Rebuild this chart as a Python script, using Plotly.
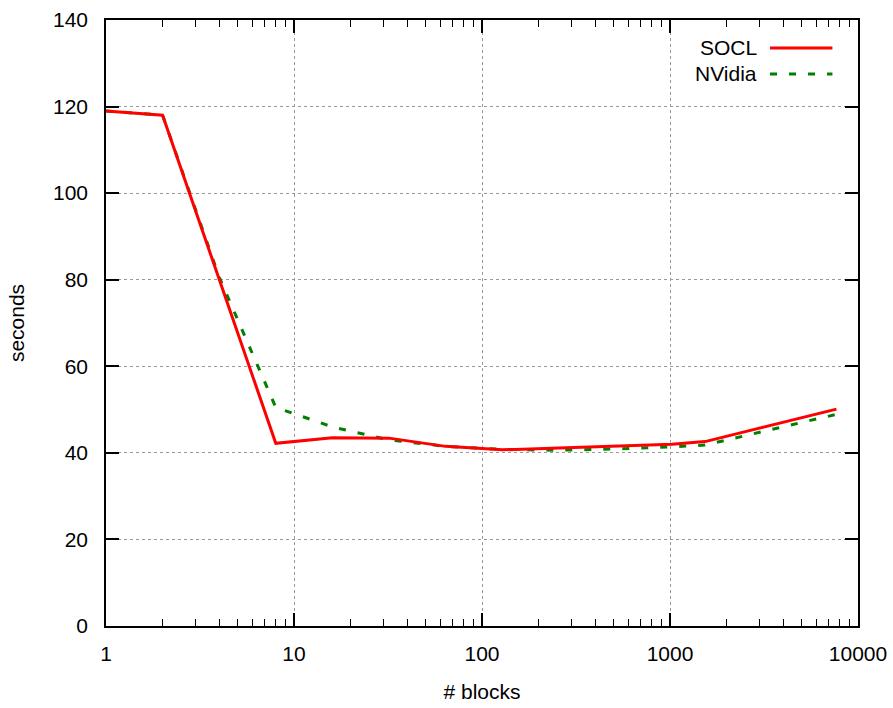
import plotly.graph_objects as go

# number of blocks (x) and run time in seconds (y)
blocks = [1, 2, 4, 8, 16, 32, 64, 128, 256, 512, 1024, 1536, 7680]
socl = [119.0, 118.0, 80.1, 42.2, 43.5, 43.4, 41.5, 40.7, 41.1, 41.5, 42.0, 42.6, 50.1]
nvidia = [119.0, 118.0, 80.6, 50.5, 46.0, 43.0, 41.5, 40.8, 40.6, 40.9, 41.4, 41.8, 48.9]

x_ticks = [1, 10, 100, 1000, 10000]
y_ticks = [0, 20, 40, 60, 80, 100, 120, 140]

font_family = "Liberation Sans, Arial, sans-serif"
fsize = 21

fig = go.Figure()

fig.add_trace(go.Scatter(
	x=blocks, y=nvidia, name="NVidia", mode="lines",
	line=dict(color="#008000", width=3, dash="7px,12px"),
	showlegend=False
))
fig.add_trace(go.Scatter(
	x=blocks, y=socl, name="SOCL", mode="lines",
	line=dict(color="#ff0000", width=3),
	showlegend=False
))

# gnuplot style key : text on the left, sample line on the right
key = [("SOCL", "#ff0000", "solid", 0.954), ("NVidia", "#008000", "7px,12px", 0.911)]
for label, color, dash, ky in key:
	fig.add_annotation(
		xref="paper", yref="paper", x=0.868, y=ky,
		text=label, showarrow=False, xanchor="right", yanchor="middle",
		font=dict(family=font_family, size=fsize, color="black")
	)
	fig.add_shape(
		type="line", xref="paper", yref="paper",
		x0=0.883, x1=0.966, y0=ky, y1=ky,
		line=dict(color=color, width=3, dash=dash)
	)

axis_common = dict(
	showline=True,
	linecolor="black",
	linewidth=1.5,
	mirror="allticks",
	ticks="inside",
	ticklen=13,
	tickwidth=1.5,
	tickcolor="black",
	showgrid=True,
	gridcolor="#999999",
	griddash="dot",
	gridwidth=1,
	zeroline=False,
	automargin=False,
	tickfont=dict(family=font_family, size=fsize, color="black"),
)

fig.update_layout(
	width=893,
	height=708,
	margin=dict(l=106, r=35, t=20, b=82),
	paper_bgcolor="white",
	plot_bgcolor="white",
	font=dict(family=font_family, size=fsize, color="black"),
	xaxis=dict(
		type="log",
		range=[0, 4],
		tickvals=x_ticks,
		ticktext=[str(v) for v in x_ticks],
		minor=dict(
			ticks="inside", ticklen=7, tickcolor="black", tickwidth=1,
			dtick="D1", showgrid=False
		),
		ticklabelstandoff=8,
		title=dict(text="# blocks", standoff=20, font=dict(size=fsize)),
		**axis_common
	),
	yaxis=dict(
		range=[0, 140],
		tickvals=y_ticks,
		ticklabelstandoff=12,
		title=dict(text="seconds", standoff=23, font=dict(size=fsize)),
		**axis_common
	),
)

# drop the default 8px body margin so the figure fills the window
fig.write_html(
	"out.html",
	config={"displayModeBar": False},
	post_script="document.body.style.margin='0px';document.body.style.overflow='hidden';"
)
